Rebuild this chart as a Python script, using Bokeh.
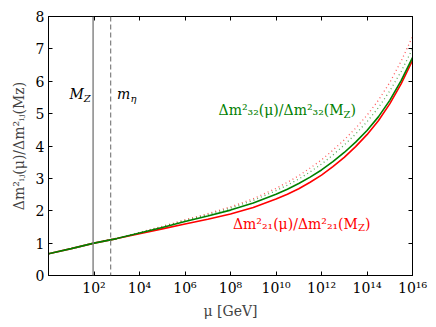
import math
from bokeh.plotting import figure
from bokeh.models import (Label, Span, FixedTicker, LinearAxis, LogAxis, Range1d)
from bokeh.embed import file_html
from bokeh.resources import INLINE

# ---- data ----
log10_mu = [0, 1, 2, 3, 4, 5, 6, 7, 8, 9, 10, 10.5, 11, 11.5, 12, 12.5, 13, 13.5, 14, 14.5, 15, 15.5, 16]
dm21_solid = [0.67, 0.83, 1.00, 1.14, 1.29, 1.44, 1.59, 1.74, 1.90, 2.10, 2.36, 2.51, 2.68, 2.88, 3.10, 3.36, 3.65, 3.98, 4.35, 4.78, 5.30, 5.92, 6.64]
dm32_solid = [0.67, 0.83, 1.00, 1.14, 1.31, 1.48, 1.67, 1.84, 2.02, 2.24, 2.51, 2.665, 2.84, 3.04, 3.26, 3.515, 3.80, 4.12, 4.48, 4.90, 5.41, 6.02, 6.73]
dm32_dotted = [0.67, 0.83, 1.00, 1.15, 1.32, 1.50, 1.70, 1.88, 2.08, 2.32, 2.62, 2.79, 2.98, 3.20, 3.44, 3.72, 4.03, 4.37, 4.75, 5.18, 5.70, 6.30, 7.00]
dm21_dotted = [0.67, 0.83, 1.00, 1.15, 1.33, 1.52, 1.72, 1.91, 2.12, 2.37, 2.69, 2.88, 3.08, 3.32, 3.57, 3.87, 4.19, 4.55, 4.95, 5.41, 5.96, 6.62, 7.38]
M_Z = 91.19
m_eta = 540.0
x_tick_exponents = [2, 4, 6, 8, 10, 12, 14, 16]
y_ticks = [0, 1, 2, 3, 4, 5, 6, 7, 8]
sup = {"0": "⁰", "1": "¹", "2": "²", "3": "³", "4": "⁴", "5": "⁵", "6": "⁶", "7": "⁷", "8": "⁸", "9": "⁹"}

mu = [10.0 ** e for e in log10_mu]

FONT = "DejaVu Serif, serif"
RED = "#ff0000"
GREEN = "#008000"

p = figure(x_axis_type="log", output_backend="svg", toolbar_location=None,
           frame_width=364, frame_height=259,
           min_border_left=48, min_border_right=16, min_border_top=16, min_border_bottom=44,
           x_range=Range1d(1.0, 1e16), y_range=Range1d(0, 8))
p.grid.visible = False
p.outline_line_color = "black"
p.outline_line_width = 1
p.background_fill_color = "white"
p.border_fill_color = "white"

xt = [10.0 ** e for e in x_tick_exponents]
p.xaxis.ticker = FixedTicker(ticks=xt)
p.xaxis.major_label_overrides = {10.0 ** e: "10" + "".join(sup[c] for c in str(e)) for e in x_tick_exponents}
p.yaxis.ticker = FixedTicker(ticks=y_ticks)

for ax in [p.xaxis[0], p.yaxis[0]]:
    ax.major_tick_in = 4
    ax.major_tick_out = 0
    ax.minor_tick_line_color = None
    ax.axis_line_color = "black"
    ax.major_label_text_font = FONT
    ax.major_label_text_font_size = "14px"
    ax.major_label_text_color = "black"
    ax.major_label_standoff = 4
    ax.axis_label_text_font = FONT
    ax.axis_label_text_font_style = "normal"
    ax.axis_label_text_font_size = "14px"

p.xaxis.axis_label = "μ [GeV]"
p.xaxis.axis_label_standoff = 4
p.yaxis.axis_label = "Δm²ᵢⱼ(μ)/Δm²ᵢⱼ(Mᴢ)"
p.yaxis.axis_label_standoff = 6

top = LogAxis(ticker=FixedTicker(ticks=xt), major_tick_in=4, major_tick_out=0,
              minor_tick_line_color=None, major_label_text_font_size="1px",
              major_label_text_color=None, major_label_standoff=0)
right = LinearAxis(ticker=FixedTicker(ticks=y_ticks), major_tick_in=4, major_tick_out=0,
                   minor_tick_line_color=None, major_label_text_font_size="1px",
                   major_label_text_color=None, major_label_standoff=0)
p.add_layout(top, "above")
p.add_layout(right, "right")

# vertical markers
p.add_layout(Span(location=M_Z, dimension="height", line_color="#7f7f7f", line_width=1.4))
p.add_layout(Span(location=m_eta, dimension="height", line_color="#7f7f7f", line_width=1.2, line_dash="5 3"))

# curves
p.line(mu, dm21_dotted, line_color=RED, line_width=1.3, line_dash="1 3", line_alpha=0.65)
p.line(mu, dm32_dotted, line_color=GREEN, line_width=1.3, line_dash="1 3", line_alpha=0.65)
p.line(mu, dm21_solid, line_color=RED, line_width=1.6)
p.line(mu, dm32_solid, line_color=GREEN, line_width=1.6)


def comp_label(x, y, main, sub, tail, color, size=14, subsize=10, subw=7, subdrop=4, style="normal"):
    common = dict(x=x, y=y, text_color=color, text_font=FONT, text_baseline="alphabetic")
    p.add_layout(Label(text=main, text_align="right", text_font_size=f"{size}px", text_font_style=style, **common))
    p.add_layout(Label(text=sub, text_align="left", y_offset=-subdrop, text_font_size=f"{subsize}px", text_font_style=style, **common))
    if tail:
        p.add_layout(Label(text=tail, text_align="left", x_offset=subw, text_font_size=f"{size}px", **common))


comp_label(10 ** 12.97, 5.1, "Δm²₃₂(μ)/Δm²₃₂(M", "Z", ")", GREEN)
comp_label(10 ** 13.6, 1.6, "Δm²₂₁(μ)/Δm²₂₁(M", "Z", ")", RED)
comp_label(10 ** 1.55, 5.6, "M", "Z", "", "black", style="italic")
comp_label(10 ** 3.6, 5.6, "m", "η", "", "black", style="italic")

open("out.html", "w").write(file_html(p, INLINE))
